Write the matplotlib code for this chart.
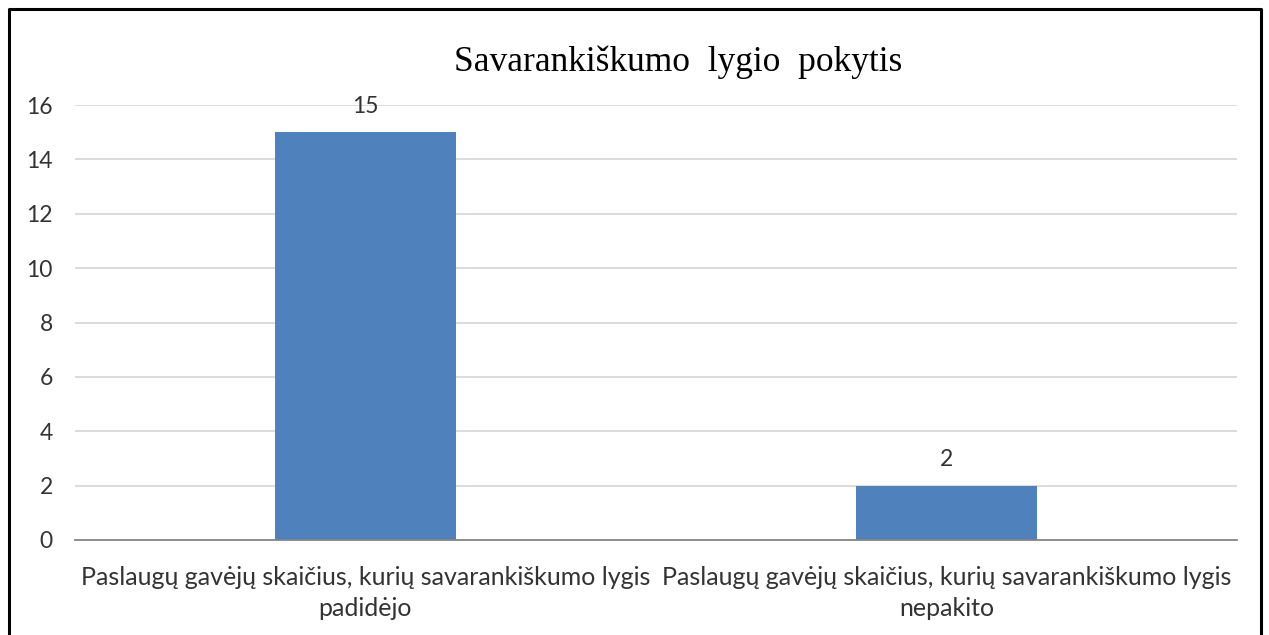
import matplotlib.pyplot as plt
from matplotlib.lines import Line2D

categories = ['Paslaugų gavėjų skaičius, kurių savarankiškumo lygis\npadidėjo',
              'Paslaugų gavėjų skaičius, kurių savarankiškumo lygis\nnepakito']
values = [15, 2]
yticks = [0, 2, 4, 6, 8, 10, 12, 14, 16]

W, H = 1269, 635
fig = plt.figure(figsize=(W / 100, H / 100), dpi=100)
ax = fig.add_axes([75 / W, 1 - 540 / H, (1237 - 75) / W, (540 - 105) / H])

bars = ax.bar(range(len(values)), values, width=0.31, color='#4F81BD', zorder=3)
ax.set_xlim(-0.5, len(values) - 0.5)
ax.set_ylim(0, 16)
ax.set_yticks(yticks)
ax.set_xticks(range(len(values)))
ax.set_xticklabels(categories, fontsize=18, family='Lato', linespacing=1.38)
for lbl in ax.get_yticklabels():
    lbl.set_fontsize(16.5)
    lbl.set_family('Lato')
ax.tick_params(axis='both', length=0, colors='#333333')
ax.tick_params(axis='x', pad=19)
ax.tick_params(axis='y', pad=16)
ax.grid(axis='y', color='#d9d9d9', linewidth=1.3, zorder=0)
for s in ['top', 'right', 'left']:
    ax.spines[s].set_visible(False)
ax.spines['bottom'].set_color('#868686')
ax.spines['bottom'].set_linewidth(1.3)
ax.spines['bottom'].set_zorder(4)

for b, v in zip(bars, values):
    ax.annotate(str(v), (b.get_x() + b.get_width() / 2, v), xytext=(0, 11),
                textcoords='offset points', ha='center', va='bottom',
                fontsize=16.5, family='Lato', color='#333333')

fig.text(678 / W, 1 - 62 / H, 'Savarankiškumo  lygio  pokytis', ha='center', va='center',
         fontsize=25.5, family='Liberation Serif', color='black')

# frame around the chart, bottom edge cut off
x0, x1, y0 = 8.5 / W, 1261 / W, 1 - 9 / H
fig.add_artist(Line2D([x0, x0, x1, x1], [0, y0, y0, 0], transform=fig.transFigure,
                      color='black', linewidth=2.2))

fig.savefig('out.png', dpi=100)
